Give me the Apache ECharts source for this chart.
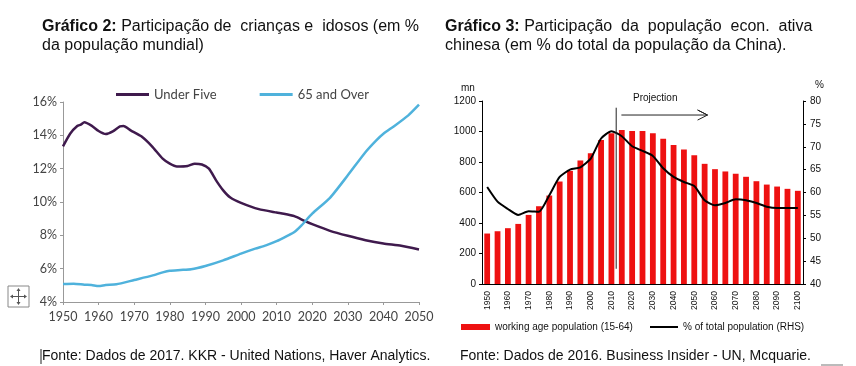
<!DOCTYPE html>
<html><head><meta charset="utf-8">
<style>html,body{margin:0;padding:0;background:#fff}#c{width:856px;height:366px}</style>
<script src="https://cdn.jsdelivr.net/npm/echarts@6/dist/echarts.min.js"></script>
</head><body><div id="c"></div>
<script>
const underFiveYears=[1950,1952,1954,1955,1956,1958,1960,1962,1964,1966,1967,1969,1972,1975,1978,1980,1982,1985,1987,1989,1991,1993,1995,1997,2000,2005,2010,2012,2015,2018,2020,2025,2030,2035,2040,2045,2050];
const underFive=[13.34,14.1,14.56,14.64,14.78,14.58,14.26,14.08,14.24,14.54,14.56,14.3,13.94,13.34,12.6,12.3,12.13,12.16,12.3,12.25,12.0,11.3,10.7,10.27,9.95,9.57,9.37,9.3,9.15,8.85,8.67,8.27,7.97,7.71,7.51,7.37,7.15];
const over65Years=[1950,1953,1956,1958,1960,1962,1965,1970,1975,1978,1980,1983,1986,1990,1995,2000,2004,2007,2010,2013,2015,2017,2020,2025,2030,2035,2038,2040,2043,2047,2050];
const over65=[5.08,5.1,5.04,5.02,4.96,5.02,5.06,5.32,5.58,5.78,5.88,5.92,5.96,6.16,6.5,6.9,7.2,7.4,7.65,7.97,8.2,8.6,9.3,10.25,11.6,13.0,13.7,14.1,14.55,15.2,15.84];
const chinaYears=['1950','1955','1960','1965','1970','1975','1980','1985','1990','1995','2000','2005','2010','2015','2020','2025','2030','2035','2040','2045','2050','2055','2060','2065','2070','2075','2080','2085','2090','2095','2100'];
const workingAge=[331,346,366,394,453,510,580,672,742,810,858,944,988,1010,1003,1003,988,952,911,882,845,788,753,738,723,703,674,652,639,624,611];
const pctTotal=[61.2,58,56.4,55.1,55.9,55.8,59.4,63.4,65,65.5,67.4,71.8,73.4,72.3,70.1,69.1,68,65.3,63.4,62.3,61.4,58.3,57.2,57.7,58.5,58.3,57.7,56.9,56.6,56.6,56.6];
const projectionStart=[[2012.3,100],[2012.3,1156]];
const projectionArrow=[[2014.8,1108],[2056.4,1108],[2051.6,1141],[2056.4,1108],[2051.6,1075]];

const RF='"Liberation Sans",Arial,sans-serif', LF='Lato,"Open Sans",sans-serif';
const C5='#3f1a4d', C65='#4fb2dc';
const rich=(bold,rest,x,y)=>({type:'text',x,y,style:{text:'{b|'+bold+'}{n|'+rest+'}',rich:{b:{font:'bold 16px '+RF,fill:'#111'},n:{font:'16px '+RF,fill:'#111'}},verticalAlign:'middle'}});
const plain=(s,x,y,size,font,fill,align)=>({type:'text',x,y,style:{text:s,font:(size||16)+'px '+(font||RF),fill:fill||'#111',verticalAlign:'middle',align:align||'left'}});

const chart=echarts.init(document.getElementById('c'),null,{renderer:'canvas'});
chart.setOption({
  animation:false,backgroundColor:'#fff',
  grid:[{left:63,top:102,width:356,height:200},{left:482,top:101,width:321,height:183}],
  legend:[
    {show:true,left:116,top:88,padding:0,itemWidth:33,itemHeight:3,icon:'rect',itemGap:43,data:['Under Five','65 and Over'],textStyle:{fontFamily:LF,fontSize:13,color:'#444'}},
    {show:true,left:461,top:322,padding:0,itemWidth:29,itemHeight:6,icon:'rect',data:['working age population (15-64)'],textStyle:{fontFamily:RF,fontSize:10,color:'#111'}},
    {show:true,left:650,top:322,padding:0,itemWidth:28,itemHeight:2,icon:'rect',data:['% of total population (RHS)'],textStyle:{fontFamily:RF,fontSize:10,color:'#111'}}
  ],
  xAxis:[
    {gridIndex:0,type:'value',min:1950,max:2050,interval:10,splitLine:{show:false},
     axisLine:{lineStyle:{color:'#999'}},axisTick:{length:3,lineStyle:{color:'#999'}},
     axisLabel:{fontFamily:LF,fontSize:12.5,color:'#444',margin:8,showMaxLabel:true,formatter:v=>String(v),hideOverlap:false}},
    {gridIndex:1,type:'category',data:chinaYears,axisTick:{alignWithLabel:false,length:3,interval:0,lineStyle:{color:'#000'}},
     axisLine:{lineStyle:{color:'#000'}},
     axisLabel:{interval:1,rotate:90,fontFamily:RF,fontSize:8.5,color:'#111',margin:7}},
    {gridIndex:1,type:'value',min:1947.5,max:2102.5,show:false}
  ],
  yAxis:[
    {gridIndex:0,type:'value',min:4,max:16,interval:2,splitLine:{show:false},
     axisLine:{show:true,lineStyle:{color:'#999'}},axisTick:{show:true,length:3,lineStyle:{color:'#999'}},
     axisLabel:{fontFamily:LF,fontSize:12.5,color:'#444',margin:6,formatter:'{value}%'}},
    {gridIndex:1,type:'value',min:0,max:1200,interval:200,splitLine:{show:false},
     axisLine:{show:true,lineStyle:{color:'#000'}},axisTick:{show:true,length:3,lineStyle:{color:'#000'}},
     axisLabel:{fontFamily:RF,fontSize:10,color:'#111',margin:6,formatter:v=>String(v)}},
    {gridIndex:1,type:'value',position:'right',min:40,max:80,interval:5,splitLine:{show:false},
     axisLine:{show:true,lineStyle:{color:'#000'}},axisTick:{show:true,length:3,lineStyle:{color:'#000'}},
     axisLabel:{fontFamily:RF,fontSize:10,color:'#111',margin:7}}
  ],
  series:[
    {name:'Under Five',type:'line',xAxisIndex:0,yAxisIndex:0,data:underFiveYears.map((y,i)=>[y,underFive[i]]),smooth:0.2,symbol:'none',lineStyle:{color:C5,width:2.5},itemStyle:{color:C5}},
    {name:'65 and Over',type:'line',xAxisIndex:0,yAxisIndex:0,data:over65Years.map((y,i)=>[y,over65[i]]),smooth:0.2,symbol:'none',lineStyle:{color:C65,width:2.5},itemStyle:{color:C65}},
    {name:'working age population (15-64)',type:'bar',xAxisIndex:1,yAxisIndex:1,data:workingAge,barWidth:'56%',itemStyle:{color:'#ee1111'}},
    {name:'% of total population (RHS)',type:'line',xAxisIndex:1,yAxisIndex:2,data:pctTotal,smooth:0.2,symbol:'none',lineStyle:{color:'#000',width:2},itemStyle:{color:'#000'}},
    {name:'start',type:'line',xAxisIndex:2,yAxisIndex:1,data:projectionStart,symbol:'none',lineStyle:{color:'#222',width:1},silent:true},
    {name:'arrow',type:'line',xAxisIndex:2,yAxisIndex:1,data:projectionArrow,symbol:'none',lineStyle:{color:'#222',width:1},silent:true}
  ],
  graphic:[
    rich('Gráfico 2:',' Participação de  crianças e  idosos (em %',42,27),
    plain('da população mundial)',42,46),
    rich('Gráfico 3:',' Participação  da  população  econ.  ativa',445,27),
    plain('chinesa (em % do total da população da China).',445,46),
    plain('Fonte: Dados de 2017. KKR - United Nations, Haver Analytics.',42,356,14),
    plain('Fonte: Dados de 2016. Business Insider - UN, Mcquarie.',460,356,14),
    {type:'line',shape:{x1:41,y1:349,x2:41,y2:364},style:{stroke:'#222',lineWidth:1}},
    plain('mn',461,88,10),
    plain('%',815,85,10),
    plain('Projection',633,98,10),
    {type:'rect',shape:{x:8,y:286,width:21,height:21},style:{fill:'#fff',stroke:'#888',lineWidth:1}},
    {type:'line',shape:{x1:11,y1:296.5,x2:26,y2:296.5},style:{stroke:'#555',lineWidth:1}},
    {type:'line',shape:{x1:18.5,y1:289,x2:18.5,y2:304},style:{stroke:'#555',lineWidth:1}},
    {type:'polygon',shape:{points:[[10,296.5],[13,294.5],[13,298.5]]},style:{fill:'#555'}},
    {type:'polygon',shape:{points:[[27,296.5],[24,294.5],[24,298.5]]},style:{fill:'#555'}},
    {type:'polygon',shape:{points:[[18.5,288],[16.5,291],[20.5,291]]},style:{fill:'#555'}},
    {type:'polygon',shape:{points:[[18.5,305],[16.5,302],[20.5,302]]},style:{fill:'#555'}},
    {type:'rect',shape:{x:821,y:364,width:22,height:2},style:{fill:'#bbb'}}
  ]
});
</script></body></html>
